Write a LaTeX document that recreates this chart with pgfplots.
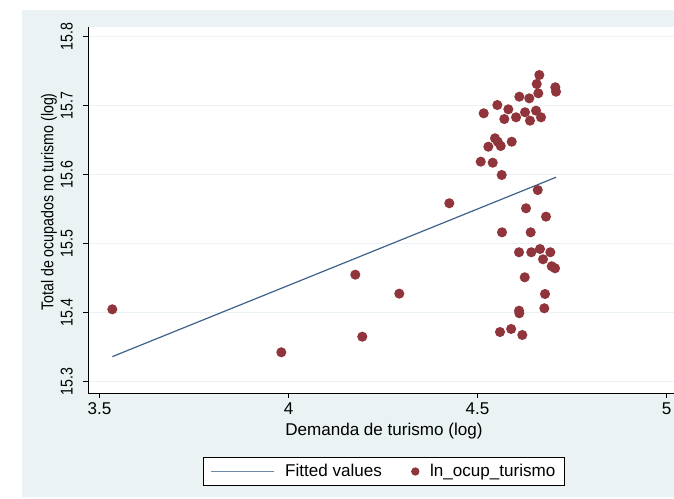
\documentclass[border=0pt]{standalone}
\usepackage{graphicx}
\usepackage{pgfplots}
\pgfplotsset{compat=1.18}
\usepackage{fontspec}
\setmainfont{Liberation Sans}
\definecolor{bgc}{RGB}{234,242,243}
\definecolor{maroonc}{RGB}{144,53,59}
\definecolor{navyc}{RGB}{62,98,138}
\newcommand{\vs}[1]{\scalebox{0.83}[1]{#1}}
\begin{document}
\fontsize{12.8}{15}\selectfont
\begin{tikzpicture}[x=0.75pt,y=0.75pt]
\useasboundingbox (0,0) rectangle (674,499);
\clip (0,0) rectangle (674,499);
\fill[bgc] (22,2) rectangle (674,489);
\begin{axis}[
  at={(66pt,79.5pt)}, anchor=south west,
  width=439.5pt, height=274.5pt, scale only axis,
  xmin=3.4696, xmax=5.0198, ymin=15.283, ymax=15.8135,
  axis x line*=bottom, axis y line*=left,
  axis line style={black, line width=0.7pt, -},
  axis background/.style={fill=white},
  xtick={3.5,4,4.5,5}, xticklabels={3.5,4,4.5,5},
  ytick={15.3,15.4,15.5,15.6,15.7,15.8},
  yticklabels={\vs{15.3},\vs{15.4},\vs{15.5},\vs{15.6},\vs{15.7},\vs{15.8}},
  /pgf/number format/assume math mode=true,
  tick align=outside, major tick length=3.75pt,
  tick style={black, line width=0.7pt},
  ymajorgrids, major grid style={bgc, line width=0.9pt},
  xticklabel style={anchor=north, inner sep=0pt, yshift=-3pt},
  yticklabel style={xshift=-7.5pt, rotate=90, anchor=south, inner sep=0pt},
  xlabel={Demanda de turismo (log)},
  xlabel style={at={(axis description cs:0.505,-0.103)}, anchor=center, inner sep=0pt},
  ylabel={\vs{Total de ocupados no turismo (log)}},
  ylabel style={at={(axis description cs:-0.0665,0.522)}, anchor=center, inner sep=0pt},
  legend columns=2,
  legend style={at={(axis description cs:0.5055,-0.2145)}, anchor=center,
    draw=black, line width=0.8pt, fill=white,
    inner xsep=5pt, inner ysep=3pt,
    /tikz/every odd column/.append style={column sep=6pt},
    /tikz/every even column/.append style={column sep=20pt},
    nodes={inner sep=2pt, anchor=west}},
  legend cell align=left,
  clip=false,
]
\addplot[navyc, line width=0.9pt,
  legend image code/.code={\draw[navyc!75, line width=1pt] (0pt,0pt) -- (47pt,0pt);}]
  coordinates {(3.5339,15.3357) (4.7077,15.5957)};
\addlegendentry{Fitted values}
\addplot[only marks, mark=*, mark size=3.8pt, maroonc,
  mark options={draw opacity=0, fill=maroonc, line width=0pt},
  legend image code/.code={\fill[maroonc] (3pt,0pt) circle (2.7pt);}]
  table {
x y
4.6635 15.7439
4.6566 15.7309
4.7058 15.7261
4.7077 15.7197
4.6608 15.7174
4.6106 15.7125
4.6370 15.7101
4.5524 15.7004
4.5815 15.6942
4.5164 15.6884
4.6257 15.6899
4.6548 15.6922
4.5709 15.6801
4.6019 15.6826
4.6389 15.6777
4.6680 15.6826
4.5463 15.6522
4.5534 15.6472
4.5905 15.6472
4.5286 15.6400
4.5614 15.6410
4.5085 15.6183
4.5402 15.6168
4.5640 15.5990
4.6593 15.5772
4.4254 15.5580
4.6283 15.5507
4.6812 15.5386
4.5648 15.5159
4.6407 15.5159
4.6098 15.4870
4.6423 15.4870
4.6653 15.4917
4.6926 15.4870
4.6733 15.4768
4.6963 15.4667
4.7050 15.4638
4.6249 15.4507
4.6786 15.4265
4.6767 15.4058
4.6099 15.4023
4.6106 15.3986
4.5595 15.3714
4.5890 15.3758
4.6185 15.3671
3.5339 15.4043
3.9810 15.3420
4.1767 15.4545
4.2931 15.4270
4.1952 15.3646
};
\addlegendentry{ln\_ocup\_turismo}
\end{axis}
\end{tikzpicture}
\end{document}
